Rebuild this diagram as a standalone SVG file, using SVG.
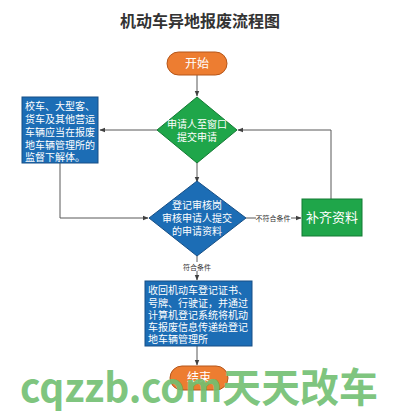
<svg xmlns="http://www.w3.org/2000/svg" width="400" height="412" viewBox="0 0 400 412">
<defs>
<style>
.t{font-family:"Liberation Serif","Noto Sans CJK SC",serif;fill:#fff;}
.ln{fill:none;stroke:#595959;stroke-width:1;}
.orange{fill:#ED7D31;stroke:#B5561A;stroke-width:1;}
.green{fill:#1FA64A;stroke:#137A33;stroke-width:1;}
.blue{fill:#1C6DB5;stroke:#174F86;stroke-width:1;}
.lbl{font-family:"Noto Sans CJK SC",sans-serif;font-size:7px;fill:#333;}
</style>
<marker id="ah" viewBox="0 0 10 10" refX="9" refY="5" markerWidth="6" markerHeight="6" orient="auto-start-reverse">
<path d="M0,1 L10,5 L0,9 z" fill="#404040"/>
</marker>
</defs>
<rect width="400" height="412" fill="#fff"/>
<text x="200" y="27" text-anchor="middle" font-family="'Noto Sans CJK SC',sans-serif" font-size="16" font-weight="bold" fill="#333">机动车异地报废流程图</text>

<g id="connectors">
<line class="ln" x1="197" y1="75" x2="197" y2="96" marker-end="url(#ah)"/>
<line class="ln" x1="157" y1="130" x2="100" y2="130" marker-end="url(#ah)"/>
<polyline class="ln" points="331,199 331,130 238,130" marker-end="url(#ah)"/>
<line class="ln" x1="197" y1="163" x2="197" y2="182" marker-end="url(#ah)"/>
<polyline class="ln" points="60,163 60,218 148,218" marker-end="url(#ah)"/>
<line class="ln" x1="246" y1="218" x2="256" y2="218"/>
<line class="ln" x1="291" y1="218" x2="301" y2="218" marker-end="url(#ah)"/>
<text class="lbl" x="273" y="220.5" text-anchor="middle">不符合条件</text>
<line class="ln" x1="197" y1="256" x2="197" y2="262"/>
<line class="ln" x1="197" y1="271" x2="197" y2="280" marker-end="url(#ah)"/>
<text class="lbl" x="197" y="269.5" text-anchor="middle">符合条件</text>
<line class="ln" x1="197" y1="346" x2="197" y2="365" marker-end="url(#ah)"/>
</g>

<g id="start">
<rect class="orange" x="167" y="52" width="60" height="23" rx="11.5"/>
<text class="t" x="197" y="68" text-anchor="middle" font-size="12">开始</text>
</g>

<g id="submit">
<polygon class="green" points="197,97 237,130 197,163 157,130"/>
<text class="t" x="197" y="128" text-anchor="middle" font-size="10">申请人至窗口</text>
<text class="t" x="197" y="141" text-anchor="middle" font-size="10">提交申请</text>
</g>

<g id="dismantle">
<rect class="blue" x="22" y="97" width="76" height="66"/>
<text class="t" font-size="10">
<tspan x="25" y="110">校车、大型客、</tspan>
<tspan x="25" y="123">货车及其他营运</tspan>
<tspan x="25" y="136">车辆应当在报废</tspan>
<tspan x="25" y="149">地车辆管理所的</tspan>
<tspan x="25" y="161">监督下解体。</tspan>
</text>
</g>

<g id="review">
<polygon class="blue" points="197,181 246,218 197,256 149,218"/>
<text class="t" x="197" y="209" text-anchor="middle" font-size="10">登记审核岗</text>
<text class="t" x="197" y="222" text-anchor="middle" font-size="10">审核申请人提交</text>
<text class="t" x="197" y="235" text-anchor="middle" font-size="10">的申请资料</text>
</g>

<g id="supplement">
<rect class="green" x="302" y="199" width="60" height="37"/>
<text class="t" x="332" y="222" text-anchor="middle" font-size="13">补齐资料</text>
</g>

<g id="recover">
<rect class="blue" x="145" y="281" width="107" height="65"/>
<text class="t" font-size="10">
<tspan x="148" y="294">收回机动车登记证书、</tspan>
<tspan x="148" y="307">号牌、行驶证，并通过</tspan>
<tspan x="148" y="319">计算机登记系统将机动</tspan>
<tspan x="148" y="331">车报废信息传递给登记</tspan>
<tspan x="148" y="343">地车辆管理所</tspan>
</text>
</g>

<g id="end">
<rect class="orange" x="170" y="366" width="58" height="24" rx="12"/>
<text class="t" x="199" y="382" text-anchor="middle" font-size="12">结束</text>
</g>

<text x="20" y="402" font-family="'Noto Sans CJK SC',sans-serif" font-size="40" font-weight="bold" fill="#72C072" fill-opacity="0.92" textLength="358" lengthAdjust="spacingAndGlyphs">cqzzb.com天天改车</text>
</svg>
